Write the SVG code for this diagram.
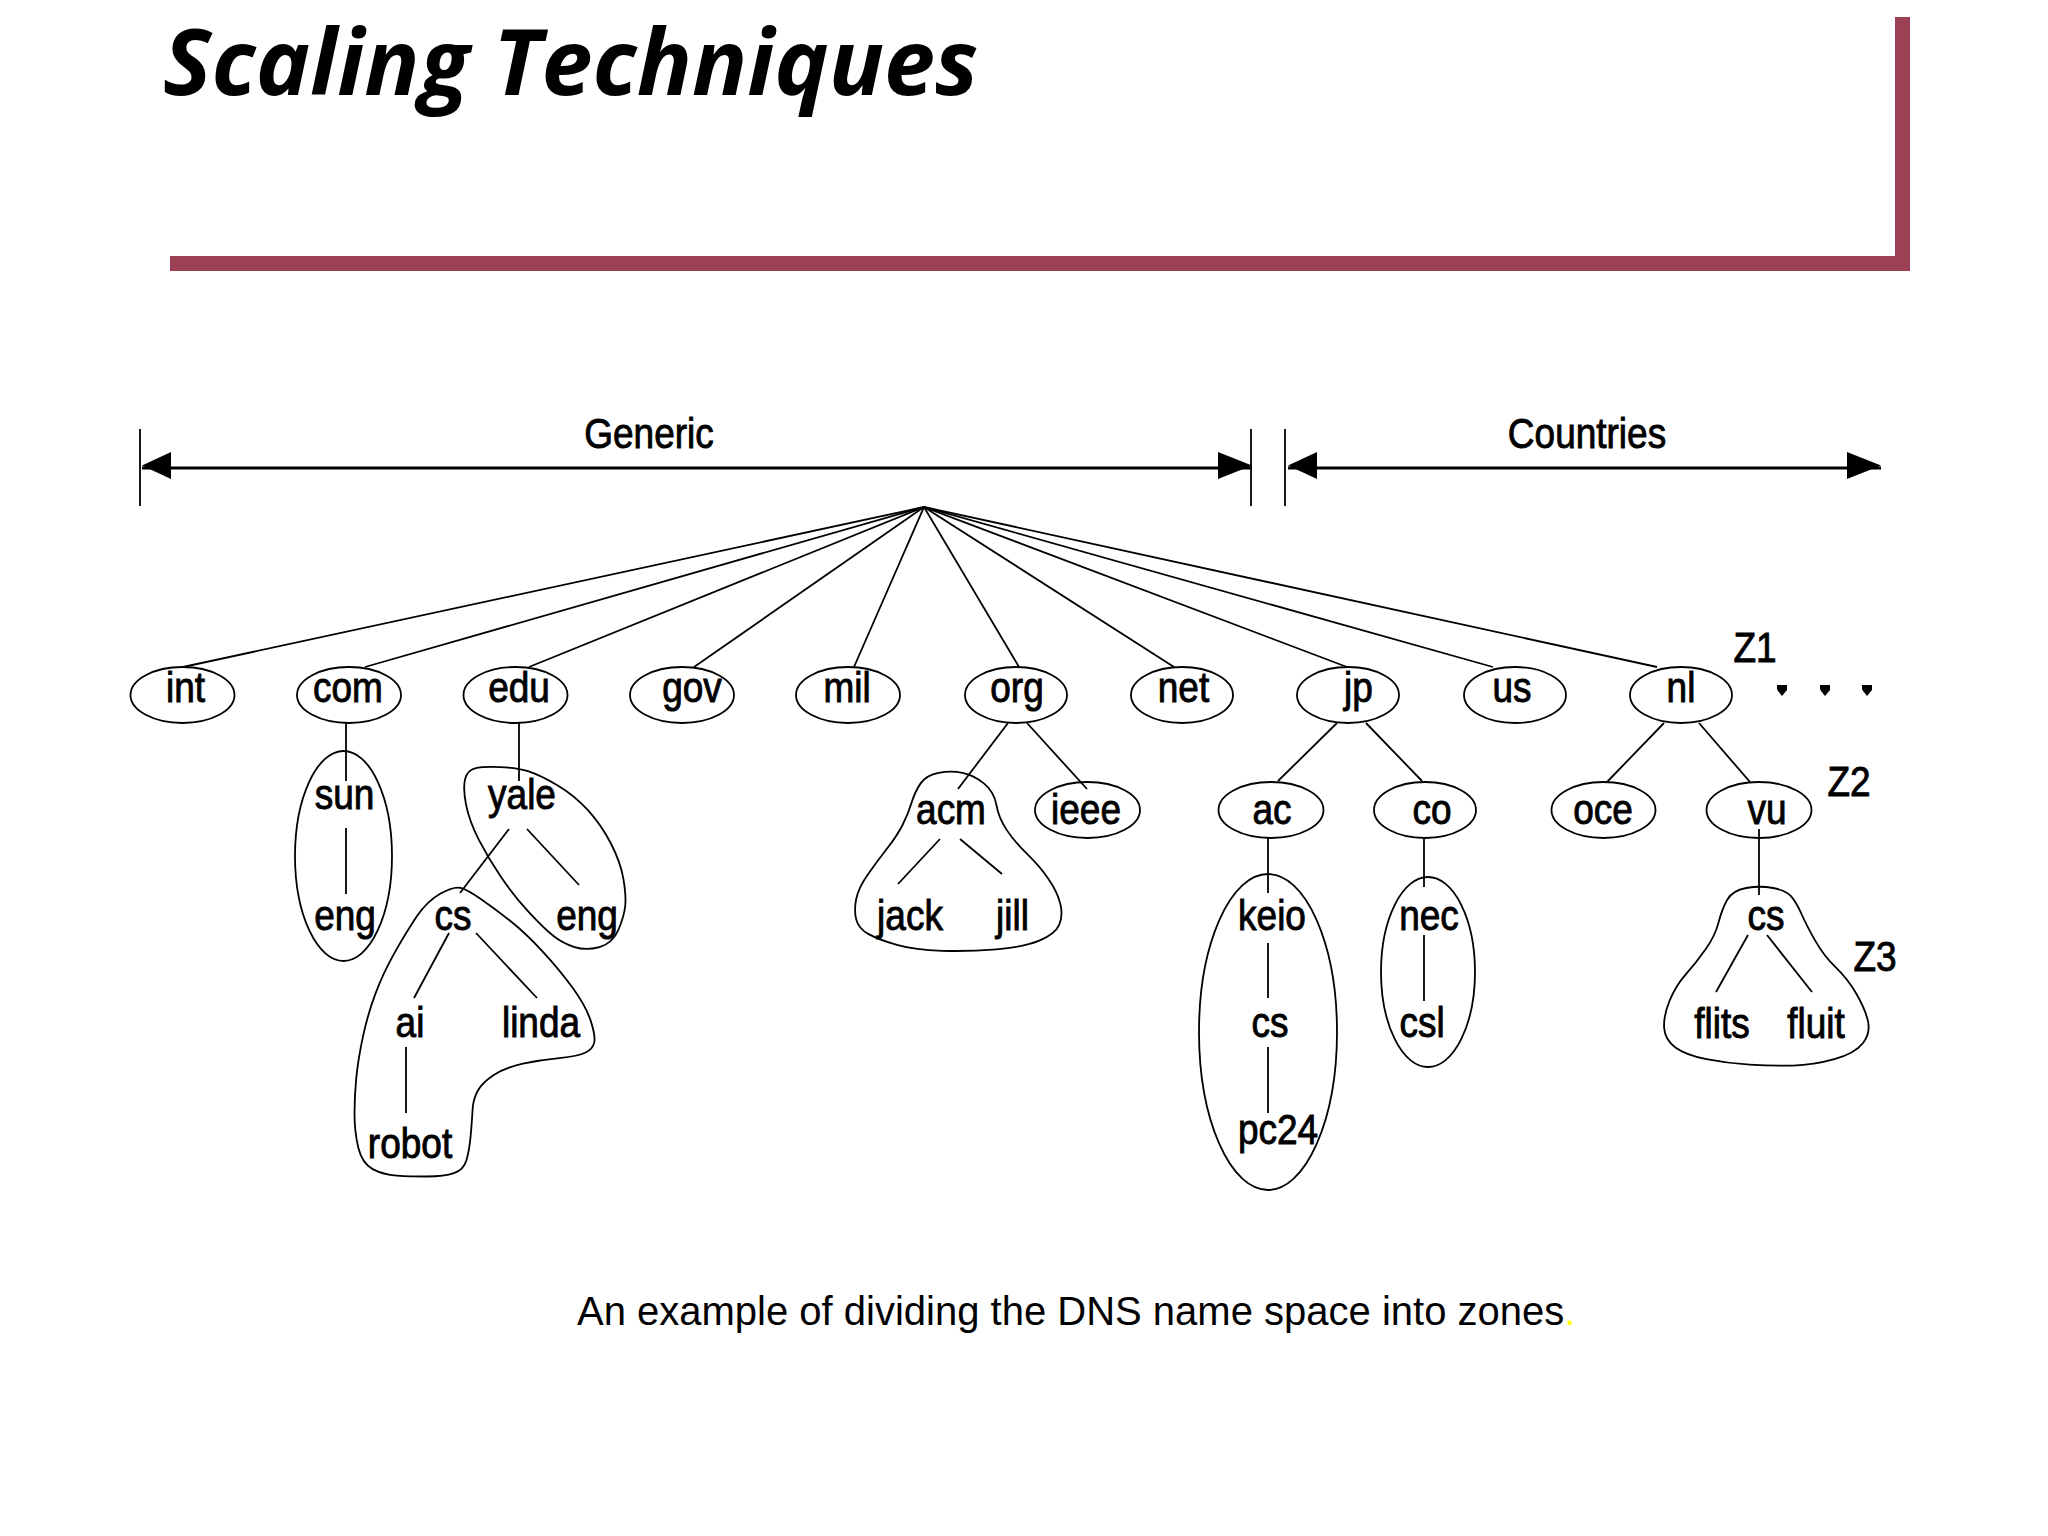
<svg xmlns="http://www.w3.org/2000/svg" width="2048" height="1536" viewBox="0 0 2048 1536">
<style>
.t{font-family:"Liberation Sans",Arial,sans-serif;font-size:37px;text-anchor:middle;fill:#000;stroke:#000;stroke-width:.8px}
.n{fill:none;stroke:#000;stroke-width:1.8}
.z{fill:none;stroke:#000;stroke-width:1.8;vector-effect:non-scaling-stroke}
.c line{stroke:#000;stroke-width:1.8}
.bar{fill:#9b4055}
</style>
<defs>
<marker id="hl" markerUnits="userSpaceOnUse" markerWidth="34" markerHeight="30" refX="1" refY="16" orient="0"><path d="M1 13.5L30 0V27Z" fill="#000"/></marker>
<marker id="hr" markerUnits="userSpaceOnUse" markerWidth="36" markerHeight="30" refX="34" refY="16" orient="0"><path d="M0 0L34 13.5L0 27Z" fill="#000"/></marker>
<path id="dot" d="M-5 -5H5L5 0L0 6L-4 1L-5 -1Z" fill="#000"/>
</defs>
<rect width="2048" height="1536" fill="#fff"/>
<g id="frame">
<rect class="bar" x="1895" y="17" width="15" height="254"/>
<rect class="bar" x="170" y="256" width="1740" height="15"/>
</g>
<text id="title" x="163" y="95" font-family="'Open Sans',sans-serif" font-size="91.5" font-weight="700" font-style="italic" fill="#000">Scaling Techniques</text>

<g id="connectors" class="c">
<line x1="140" y1="429" x2="140" y2="506"/>
<line x1="1251" y1="429" x2="1251" y2="506"/>
<line x1="1285" y1="429" x2="1285" y2="506"/>
<line x1="142" y1="468" x2="1252" y2="468" style="stroke-width:3" marker-start="url(#hl)" marker-end="url(#hr)"/>
<line x1="1288" y1="468" x2="1881" y2="468" style="stroke-width:3" marker-start="url(#hl)" marker-end="url(#hr)"/>
<line x1="924" y1="507" x2="183" y2="667"/>
<line x1="924" y1="507" x2="365" y2="667"/>
<line x1="924" y1="507" x2="529" y2="667"/>
<line x1="924" y1="507" x2="694" y2="667"/>
<line x1="924" y1="507" x2="854" y2="667"/>
<line x1="924" y1="507" x2="1019" y2="667"/>
<line x1="924" y1="507" x2="1174" y2="667"/>
<line x1="924" y1="507" x2="1347" y2="667"/>
<line x1="924" y1="507" x2="1493" y2="667"/>
<line x1="924" y1="507" x2="1657" y2="667"/>
<line x1="346" y1="722" x2="346" y2="781"/>
<line x1="346" y1="828" x2="346" y2="894"/>
<line x1="519" y1="722" x2="519" y2="781"/>
<line x1="509" y1="829" x2="460" y2="893"/>
<line x1="527" y1="829" x2="579" y2="885"/>
<line x1="449" y1="933" x2="414" y2="998"/>
<line x1="476" y1="933" x2="537" y2="998"/>
<line x1="406" y1="1047" x2="406" y2="1113"/>
<line x1="1008" y1="723" x2="958" y2="789"/>
<line x1="1027" y1="723" x2="1087" y2="789"/>
<line x1="940" y1="839" x2="898" y2="884"/>
<line x1="960" y1="839" x2="1002" y2="874"/>
<line x1="1337" y1="723" x2="1278" y2="781"/>
<line x1="1366" y1="723" x2="1422" y2="781"/>
<line x1="1268" y1="838" x2="1268" y2="893"/>
<line x1="1268" y1="943" x2="1268" y2="998"/>
<line x1="1268" y1="1047" x2="1268" y2="1113"/>
<line x1="1424" y1="839" x2="1424" y2="887"/>
<line x1="1424" y1="935" x2="1424" y2="1001"/>
<line x1="1664" y1="723" x2="1607" y2="782"/>
<line x1="1699" y1="723" x2="1750" y2="782"/>
<line x1="1759" y1="829" x2="1759" y2="895"/>
<line x1="1748" y1="935" x2="1716" y2="992"/>
<line x1="1767" y1="935" x2="1812" y2="992"/>
</g>

<g id="zones">
<ellipse id="zone-sun" class="n" cx="343.5" cy="856" rx="48.5" ry="105"/>
<path id="zone-yale" class="z" transform="translate(100 640) scale(.3827 .37)" d="M1045 343.5 Q1000 342 980 347 Q960 352 954 376 Q948 400 956.5 445 Q965 490 990 540 Q1015 590 1047.5 640 Q1080 690 1120 735 Q1160 780 1185 800 Q1210 820 1240 830 Q1270 840 1305 830 Q1340 820 1355 782.5 Q1370 745 1372.5 717.5 Q1375 690 1367.5 645 Q1360 600 1335 550 Q1310 500 1275 460 Q1240 420 1195 392.5 Q1150 365 1120 355 Q1090 345 1045 343.5Z"/>
<path id="zone-cs" class="z" transform="translate(100 640) scale(.3827 .37)" d="M942.5 670 Q925 665 890 685 Q855 705 827.5 747.5 Q800 790 770 845 Q740 900 720 955 Q700 1010 687.5 1070 Q675 1130 670 1180 Q665 1230 665 1280 Q665 1330 675 1372.5 Q685 1415 712.5 1430 Q740 1445 775 1447.5 Q810 1450 855 1450 Q900 1450 925 1441 Q950 1432 957.5 1406 Q965 1380 968.5 1340 Q972 1300 973.5 1270 Q975 1240 987.5 1217.5 Q1000 1195 1030 1175 Q1060 1155 1105 1145 Q1150 1135 1200 1130 Q1250 1125 1269 1115 Q1288 1105 1291.5 1087.5 Q1295 1070 1282.5 1030 Q1270 990 1235 940 Q1200 890 1155 840 Q1110 790 1070 757.5 Q1030 725 995 700 Q960 675 942.5 670Z"/>
<path id="zone-acm" class="z" transform="translate(698 640) scale(.452 .37)" d="M585 359 Q560 353 532.5 359 Q505 365 492.5 387.5 Q480 410 472.5 440 Q465 470 452.5 500 Q440 530 417.5 565 Q395 600 375 635 Q355 670 350 700 Q345 730 350 755 Q355 780 377.5 795 Q400 810 440 824 Q480 838 540 840 Q600 842 660 836 Q720 830 755 812.5 Q790 795 799 770 Q808 745 801.5 712.5 Q795 680 775 645 Q755 610 727.5 577.5 Q700 545 682.5 512.5 Q665 480 660 445 Q655 410 632.5 387.5 Q610 365 585 359Z"/>
<ellipse id="zone-keio" class="n" cx="1268" cy="1032" rx="69" ry="158"/>
<ellipse id="zone-nec" class="n" cx="1428" cy="972" rx="47" ry="95"/>
<path id="zone-vu-cs" class="z" transform="translate(1399 617) scale(.3455 .3356)" d="M1082.5 807.5 Q1045 800 1005 807.5 Q965 815 950 842.5 Q935 870 925 910 Q915 950 887.5 990 Q860 1030 830 1065 Q800 1100 782.5 1145 Q765 1190 767.5 1225 Q770 1260 800 1282.5 Q830 1305 890 1317.5 Q950 1330 1015 1334 Q1080 1338 1140 1336.5 Q1200 1335 1260 1317.5 Q1320 1300 1342.5 1270 Q1365 1240 1357.5 1205 Q1350 1170 1325 1125 Q1300 1080 1265 1045 Q1230 1010 1205 965 Q1180 920 1165 885 Q1150 850 1135 832.5 Q1120 815 1082.5 807.5Z"/>
</g>

<g id="label-generic"><text class="t" transform="translate(649 448) scale(1 1.15)">Generic</text></g>
<g id="label-countries"><text class="t" transform="translate(1587 448) scale(1 1.15)">Countries</text></g>

<g id="int"><ellipse class="n" cx="182.5" cy="695" rx="52" ry="28"/><text class="t" transform="translate(185.5 702) scale(1 1.15)">int</text></g>
<g id="com"><ellipse class="n" cx="349" cy="695" rx="52" ry="28"/><text class="t" transform="translate(348 702) scale(1 1.15)">com</text></g>
<g id="edu"><ellipse class="n" cx="515.5" cy="695" rx="52" ry="28"/><text class="t" transform="translate(519 702) scale(1 1.15)">edu</text></g>
<g id="gov"><ellipse class="n" cx="682" cy="695" rx="52" ry="28"/><text class="t" transform="translate(692 702) scale(1 1.15)">gov</text></g>
<g id="mil"><ellipse class="n" cx="848" cy="695" rx="52" ry="28"/><text class="t" transform="translate(847 702) scale(1 1.15)">mil</text></g>
<g id="org"><ellipse class="n" cx="1016" cy="695" rx="51" ry="28"/><text class="t" transform="translate(1017 702) scale(1 1.15)">org</text></g>
<g id="net"><ellipse class="n" cx="1182" cy="695" rx="51" ry="28"/><text class="t" transform="translate(1183.5 702) scale(1 1.15)">net</text></g>
<g id="jp"><ellipse class="n" cx="1348" cy="695" rx="51" ry="28"/><text class="t" transform="translate(1358.5 702) scale(1 1.15)">jp</text></g>
<g id="us"><ellipse class="n" cx="1515" cy="695" rx="51" ry="28"/><text class="t" transform="translate(1512 702) scale(1 1.15)">us</text></g>
<g id="nl"><ellipse class="n" cx="1681" cy="695" rx="51" ry="28"/><text class="t" transform="translate(1681 702) scale(1 1.15)">nl</text></g>

<g id="z1"><text class="t" transform="translate(1755 662) scale(1 1.15)">Z1</text></g>
<g id="z2"><text class="t" transform="translate(1849 796) scale(1 1.15)">Z2</text></g>
<g id="z3"><text class="t" transform="translate(1875 971) scale(1 1.15)">Z3</text></g>
<g id="dots"><use href="#dot" x="1782" y="690"/><use href="#dot" x="1825" y="690"/><use href="#dot" x="1867" y="690"/></g>

<g id="sun"><text class="t" transform="translate(344.5 809) scale(1 1.15)">sun</text></g>
<g id="eng-sun"><text class="t" transform="translate(345 930) scale(1 1.15)">eng</text></g>
<g id="yale"><text class="t" transform="translate(522 809) scale(1 1.15)">yale</text></g>
<g id="eng-yale"><text class="t" transform="translate(587 930) scale(1 1.15)">eng</text></g>
<g id="cs-yale"><text class="t" transform="translate(453 930) scale(1 1.15)">cs</text></g>
<g id="ai"><text class="t" transform="translate(410 1037) scale(1 1.15)">ai</text></g>
<g id="linda"><text class="t" transform="translate(541 1037) scale(1 1.15)">linda</text></g>
<g id="robot"><text class="t" transform="translate(410 1158) scale(1 1.15)">robot</text></g>

<g id="acm"><text class="t" transform="translate(951 824) scale(1 1.15)">acm</text></g>
<g id="ieee"><ellipse class="n" cx="1087.5" cy="810" rx="52.5" ry="28"/><text class="t" transform="translate(1086 824) scale(1 1.15)">ieee</text></g>
<g id="jack"><text class="t" transform="translate(910 930) scale(1 1.15)">jack</text></g>
<g id="jill"><text class="t" transform="translate(1012.5 930) scale(1 1.15)">jill</text></g>

<g id="ac"><ellipse class="n" cx="1271" cy="810" rx="52.5" ry="28"/><text class="t" transform="translate(1272 824) scale(1 1.15)">ac</text></g>
<g id="co"><ellipse class="n" cx="1425" cy="810" rx="51" ry="28"/><text class="t" transform="translate(1432 824) scale(1 1.15)">co</text></g>
<g id="keio"><text class="t" transform="translate(1272 930) scale(1 1.15)">keio</text></g>
<g id="cs-keio"><text class="t" transform="translate(1270 1037) scale(1 1.15)">cs</text></g>
<g id="pc24"><text class="t" transform="translate(1278 1144) scale(1 1.15)">pc24</text></g>
<g id="nec"><text class="t" transform="translate(1429 930) scale(1 1.15)">nec</text></g>
<g id="csl"><text class="t" transform="translate(1422 1037) scale(1 1.15)">csl</text></g>

<g id="oce"><ellipse class="n" cx="1603.5" cy="810" rx="52" ry="28"/><text class="t" transform="translate(1603 824) scale(1 1.15)">oce</text></g>
<g id="vu"><ellipse class="n" cx="1759" cy="810" rx="52.5" ry="28"/><text class="t" transform="translate(1767 824) scale(1 1.15)">vu</text></g>
<g id="cs-vu"><text class="t" transform="translate(1766 930) scale(1 1.15)">cs</text></g>
<g id="flits"><text class="t" transform="translate(1722 1038) scale(1 1.15)">flits</text></g>
<g id="fluit"><text class="t" transform="translate(1816 1038) scale(1 1.15)">fluit</text></g>

<text id="caption" x="577" y="1325" font-family="'Liberation Sans',Arial,sans-serif" font-size="40" fill="#000">An example of dividing the DNS name space into zones<tspan fill="#ffff00">.</tspan></text>
</svg>
